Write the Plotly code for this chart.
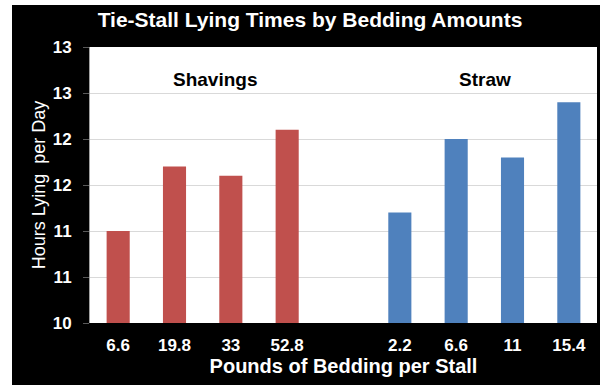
import plotly.graph_objects as go

# Bedding amounts (lb per stall) and mean daily lying time (h)
shavings_lbs = ["6.6", "19.8", "33", "52.8"]
shavings_hours = [11.0, 11.7, 11.6, 12.1]
straw_lbs = ["2.2", "6.6", "11", "15.4"]
straw_hours = [11.2, 12.0, 11.8, 12.4]

# y ticks every half hour, labelled as whole hours
y_tickvals = [10, 10.5, 11, 11.5, 12, 12.5, 13]
y_ticktext = ["10", "11", "11", "12", "12", "13", "13"]

# category slots: shavings, one empty spacer slot, straw
shav_x = list(range(len(shavings_lbs)))
straw_x = [len(shavings_lbs) + 1 + i for i in range(len(straw_lbs))]
x_tickvals = shav_x + [len(shavings_lbs)] + straw_x
x_ticktext = shavings_lbs + [""] + straw_lbs

FONT = "Liberation Sans, Arial, sans-serif"

fig = go.Figure()
fig.add_trace(go.Bar(x=shav_x, y=shavings_hours, width=0.41,
                     marker=dict(color="#C0504D", line=dict(width=0)),
                     name="Shavings"))
fig.add_trace(go.Bar(x=straw_x, y=straw_hours, width=0.41,
                     marker=dict(color="#4F81BD", line=dict(width=0)),
                     name="Straw"))

fig.update_layout(
    width=600, height=385,
    margin=dict(l=90, r=3, t=47, b=62),
    paper_bgcolor="black",
    plot_bgcolor="white",
    showlegend=False,
    title=dict(text="Tie-Stall Lying Times by Bedding Amounts",
               x=310 / 600, xanchor="center", y=1 - 20 / 385, yanchor="middle",
               font=dict(family=FONT, size=21, color="white", weight="bold")),
    xaxis=dict(range=[-0.5, 8.5], tickvals=x_tickvals, ticktext=x_ticktext,
               showgrid=False, zeroline=False, ticks="", ticklabelstandoff=10,
               tickfont=dict(family=FONT, size=17, color="white", weight="bold"),
               title=dict(text="Pounds of Bedding per Stall", standoff=2,
                          font=dict(family=FONT, size=20, color="white", weight="bold"))),
    yaxis=dict(range=[10, 13], tickvals=y_tickvals, ticktext=y_ticktext,
               showgrid=True, gridcolor="#D9D9D9", gridwidth=1, zeroline=False,
               ticks="outside", ticklen=6, tickcolor="#595959",
               ticklabelstandoff=8,
               showline=True, linecolor="#A0A0A0", linewidth=1,
               tickfont=dict(family=FONT, size=17, color="white", weight="bold"),
               title=dict(text="Hours Lying  per Day", standoff=2,
                          font=dict(family=FONT, size=18, color="white"))),
    bargap=0.59,
)

# white page strips around the black chart frame
fig.add_shape(type="rect", xref="paper", yref="paper", layer="above",
              x0=-90 / 507, x1=-78 / 507, y0=-62 / 276, y1=329 / 276,
              fillcolor="white", line=dict(width=0))
fig.add_shape(type="rect", xref="paper", yref="paper", layer="above",
              x0=-90 / 507, x1=513 / 507, y0=318 / 276, y1=329 / 276,
              fillcolor="white", line=dict(width=0))

for label, xpos in (("Shavings", 1.72), ("Straw", 6.51)):
    fig.add_annotation(x=xpos, y=12.65, xref="x", yref="y", text=label,
                       showarrow=False,
                       font=dict(family=FONT, size=19, color="black", weight="bold"))

fig.write_html("out.html")
